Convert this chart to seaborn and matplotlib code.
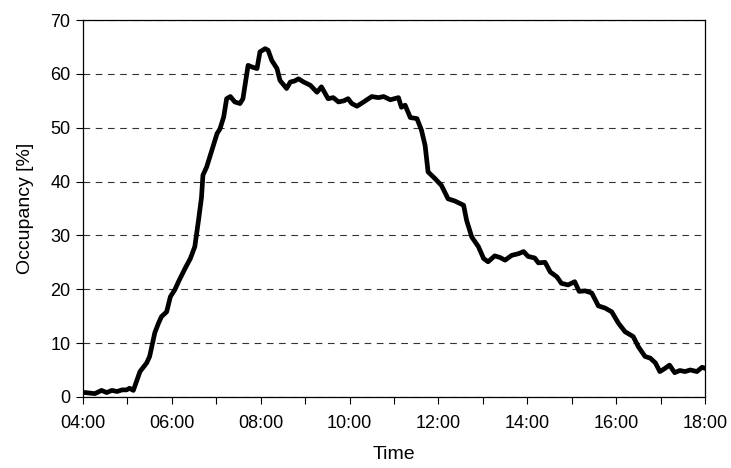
import pandas as pd
import seaborn as sns
import matplotlib
matplotlib.use("Agg")
import matplotlib.pyplot as plt
from matplotlib.ticker import MultipleLocator, FuncFormatter

# values
times = ["04:00", "04:03", "04:16", "04:25", "04:32", "04:39", "04:46", "04:53", "04:59", "05:03",
         "05:08", "05:17", "05:26", "05:30", "05:37", "05:42", "05:46", "05:53", "05:58", "06:04",
         "06:09", "06:18", "06:25", "06:31", "06:36", "06:40", "06:42", "06:47", "06:54", "07:01",
         "07:05", "07:10", "07:14", "07:19", "07:25", "07:32", "07:36", "07:43", "07:48", "07:55",
         "07:59", "08:06", "08:10", "08:15", "08:22", "08:26", "08:35", "08:40", "08:46", "08:51",
         "08:58", "09:07", "09:16", "09:22", "09:31", "09:38", "09:45", "09:52", "09:58", "10:03",
         "10:10", "10:19", "10:30", "10:39", "10:46", "10:55", "11:06", "11:10", "11:15", "11:22",
         "11:31", "11:37", "11:42", "11:46", "11:55", "12:04", "12:13", "12:22", "12:34", "12:38",
         "12:45", "12:54", "13:01", "13:07", "13:16", "13:23", "13:30", "13:39", "13:48", "13:55",
         "14:01", "14:10", "14:15", "14:24", "14:31", "14:40", "14:46", "14:55", "15:04", "15:10",
         "15:18", "15:27", "15:36", "15:45", "15:54", "16:03", "16:12", "16:23", "16:30", "16:39",
         "16:46", "16:53", "16:59", "17:06", "17:12", "17:19", "17:26", "17:33", "17:40", "17:49",
         "17:56", "18:00"]
occupancy = [0.8, 0.8, 0.6, 1.2, 0.8, 1.2, 1.0, 1.3, 1.3, 1.6,
             1.2, 4.7, 6.3, 7.5, 11.9, 13.7, 14.9, 15.8, 18.6, 19.9,
             21.4, 23.9, 25.7, 27.9, 32.8, 37.0, 41.2, 42.7, 45.8, 48.9,
             49.8, 52.0, 55.4, 55.8, 54.8, 54.5, 55.4, 61.6, 61.3, 61.0,
             64.1, 64.7, 64.4, 62.5, 61.0, 58.8, 57.3, 58.5, 58.7, 59.1,
             58.5, 57.9, 56.6, 57.6, 55.4, 55.6, 54.8, 55.0, 55.4, 54.5,
             54.0, 54.8, 55.8, 55.6, 55.8, 55.2, 55.6, 53.8, 54.2, 51.9,
             51.7, 49.6, 46.7, 41.8, 40.6, 39.3, 36.8, 36.4, 35.6, 32.8,
             29.7, 27.9, 25.7, 25.1, 26.2, 25.9, 25.4, 26.3, 26.6, 27.0,
             26.1, 25.8, 24.9, 25.0, 23.2, 22.3, 21.1, 20.8, 21.4, 19.6,
             19.7, 19.3, 16.9, 16.5, 15.8, 13.7, 12.1, 11.2, 9.3, 7.5,
             7.2, 6.3, 4.7, 5.3, 5.9, 4.5, 4.9, 4.7, 5.0, 4.7,
             5.5, 5.3]

hours = [int(t[:2]) + int(t[3:]) / 60 for t in times]
df = pd.DataFrame({"Time": hours, "Occupancy": occupancy})

sns.set_style("ticks")
plt.rcParams["font.family"] = ["Liberation Sans", "DejaVu Sans"]

fig = plt.figure(figsize=(7.31, 4.68), dpi=100)
ax = fig.add_axes([0.1135, 0.152, 0.851, 0.805])

sns.lineplot(data=df, x="Time", y="Occupancy", color="black", linewidth=3.4, ax=ax)

ax.set_xlim(4, 18)
ax.set_ylim(0, 70)
ax.xaxis.set_major_locator(MultipleLocator(2))
ax.xaxis.set_minor_locator(MultipleLocator(1))
ax.xaxis.set_major_formatter(FuncFormatter(lambda v, p: f"{int(v):02d}:00"))
ax.yaxis.set_major_locator(MultipleLocator(10))
ax.yaxis.grid(True, linestyle=(0, (6, 5)), color="#333333", linewidth=0.8)
ax.tick_params(axis="both", which="major", direction="out", length=5, width=0.8,
               labelsize=13, color="black", labelcolor="black", pad=4)
ax.tick_params(axis="x", which="major", pad=8)
ax.tick_params(axis="x", which="minor", direction="out", length=5, width=0.8, color="black")
for s in ax.spines.values():
    s.set_visible(True)
    s.set_color("black")
    s.set_linewidth(0.9)

ax.set_xlabel("Time", fontsize=14, color="black", labelpad=10)
ax.set_ylabel("Occupancy [%]", fontsize=14, color="black", labelpad=12)

fig.savefig("out.png", dpi=100)
